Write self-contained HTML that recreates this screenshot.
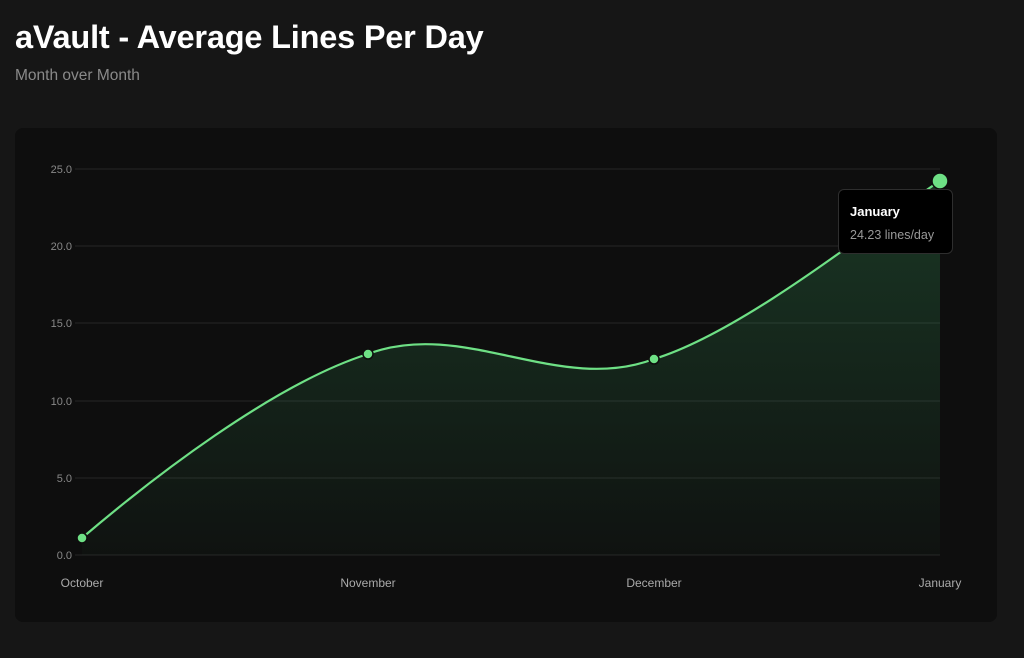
<!DOCTYPE html>
<html><head><meta charset="utf-8"><style>
html,body{margin:0;padding:0;background:#161616;width:1024px;height:658px;overflow:hidden;font-family:"Liberation Sans",sans-serif}
h1{position:absolute;left:15px;top:19px;margin:0;font-size:32.5px;font-weight:bold;color:#fff;letter-spacing:-0.2px}
.sub{position:absolute;left:15px;top:67px;font-size:15.5px;color:#8a8a8a}
.card{position:absolute;left:15px;top:128px;width:982px;height:494px;background:#0e0e0e;border-radius:8px}
svg{position:absolute;left:0;top:0}
.tip{position:absolute;left:838px;top:189px;width:115px;height:65px;background:#000;border:1px solid #2e2e2e;border-radius:6px;box-sizing:border-box}
.tip b{position:absolute;left:11px;top:14px;font-size:13px;color:#fff}
.tip span{position:absolute;left:11px;top:38px;font-size:12.5px;color:#999}
</style></head><body>
<h1>aVault - Average Lines Per Day</h1>
<div class="sub">Month over Month</div>
<div class="card"></div>
<svg width="1024" height="658" font-family="Liberation Sans, sans-serif">
<defs><linearGradient id="g" x1="0" y1="0" x2="0" y2="1">
<stop offset="0" stop-color="#4ade80" stop-opacity="0.2"/><stop offset="1" stop-color="#4ade80" stop-opacity="0.02"/></linearGradient></defs>
<g stroke="#262626" stroke-width="1">
<line x1="75" y1="169" x2="940" y2="169"/><line x1="75" y1="246" x2="940" y2="246"/>
<line x1="75" y1="323" x2="940" y2="323"/><line x1="75" y1="401" x2="940" y2="401"/>
<line x1="75" y1="478" x2="940" y2="478"/><line x1="75" y1="555" x2="940" y2="555"/></g>
<g fill="#888" font-size="11" text-anchor="end">
<text x="72" y="173">25.0</text><text x="72" y="250">20.0</text><text x="72" y="327">15.0</text>
<text x="72" y="405">10.0</text><text x="72" y="482">5.0</text><text x="72" y="559">0.0</text></g>
<g fill="#aaa" font-size="12" text-anchor="middle">
<text x="82" y="587">October</text><text x="368" y="587">November</text><text x="654" y="587">December</text><text x="940" y="587">January</text></g>
<path d="M82,538 C150,480 273,384 368,354 C463,318 559,395 654,359 C749,330 892,211 940,181 L940,555 L82,555 Z" fill="url(#g)"/>
<path d="M82,538 C150,480 273,384 368,354 C463,318 559,395 654,359 C749,330 892,211 940,181" fill="none" stroke="#6ee085" stroke-width="2.2"/>
<g fill="#6ee085" stroke="#0e0e0e" stroke-width="1.5">
<circle cx="82" cy="538" r="5"/><circle cx="368" cy="354" r="5"/><circle cx="654" cy="359" r="5"/><circle cx="940" cy="181" r="8"/></g>
</svg>
<div class="tip"><b>January</b><span>24.23 lines/day</span></div>
</body></html>
